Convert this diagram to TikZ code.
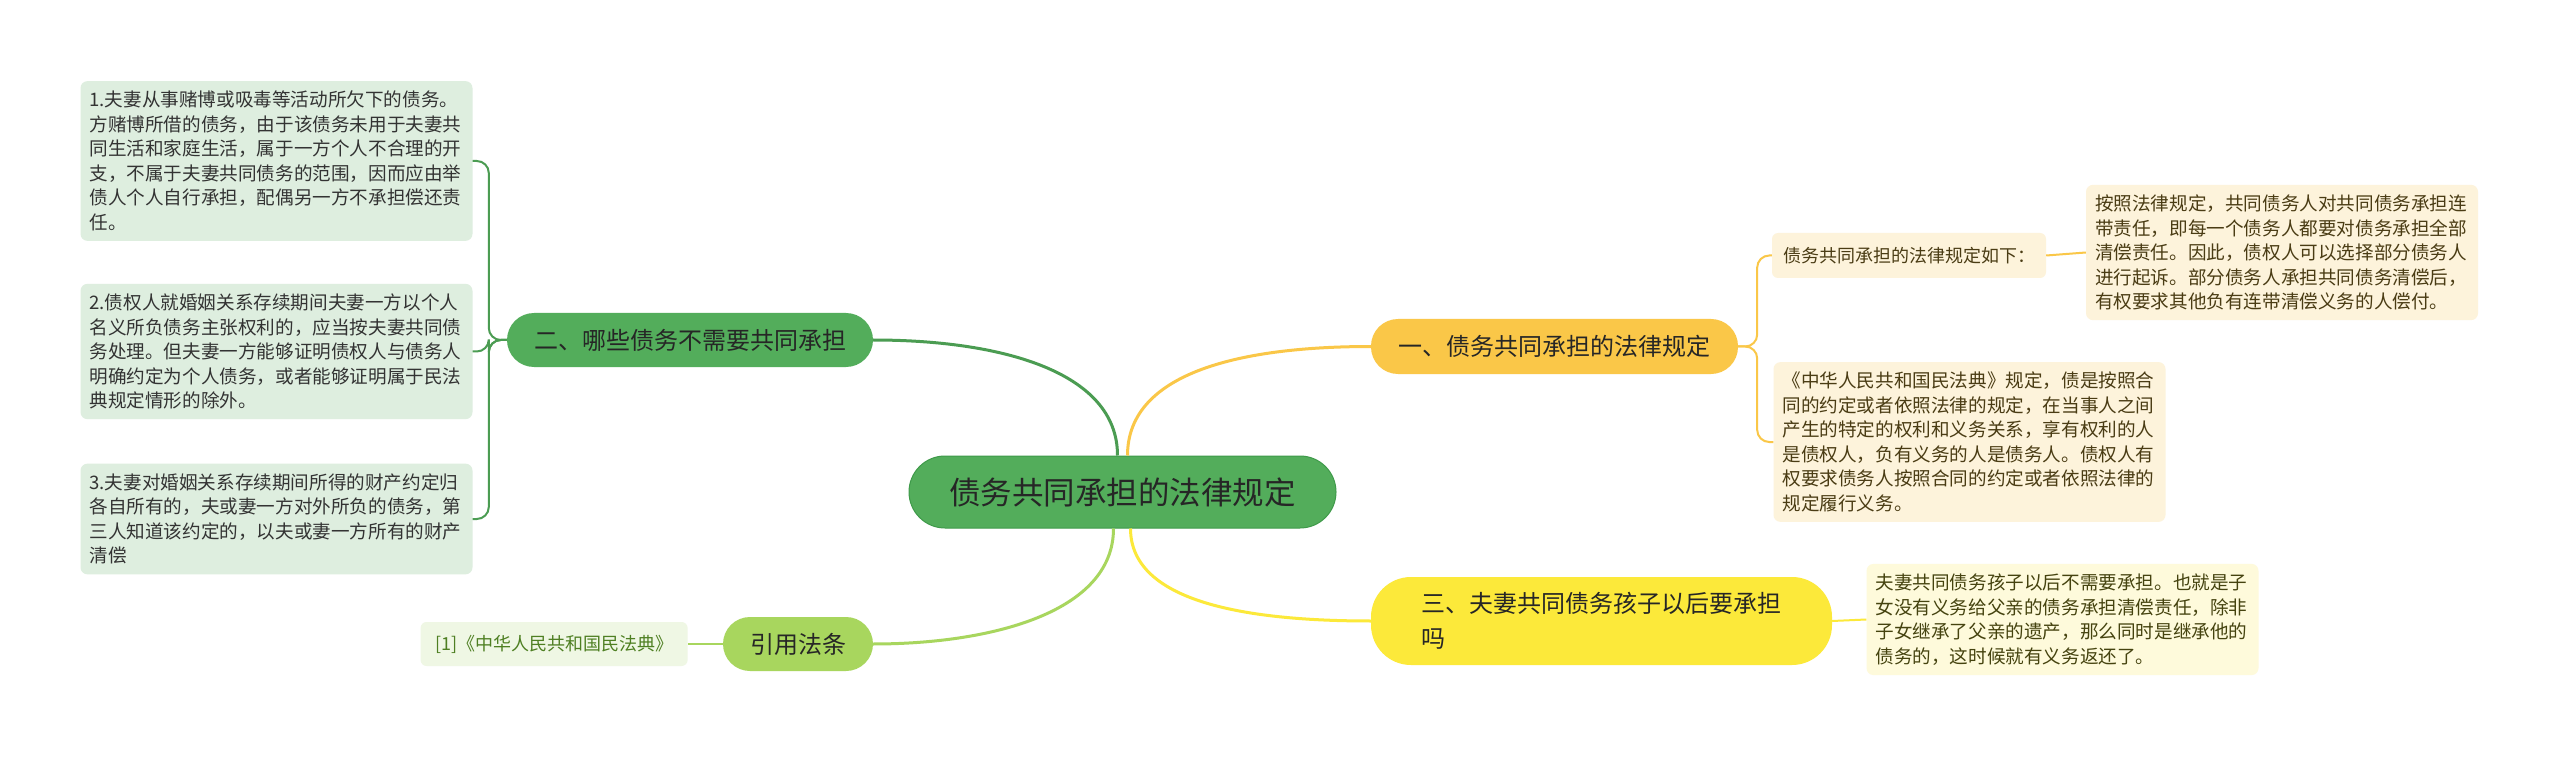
\documentclass[tikz,border=0pt]{standalone}
\usepackage{fontspec}
\setmainfont{Noto Sans CJK SC}
\usetikzlibrary{positioning,calc}

\definecolor{rootgreen}{HTML}{53AD5B}
\definecolor{rootedge}{HTML}{3F9A4A}
\definecolor{limegreen}{HTML}{A8D65E}
\definecolor{gold}{HTML}{FAC748}
\definecolor{lemon}{HTML}{FCE93A}
\definecolor{leafgreen}{HTML}{DEEEDF}
\definecolor{reffill}{HTML}{EFF7E4}
\definecolor{reftext}{HTML}{4E7F22}
\definecolor{cream}{HTML}{FDF3DB}
\definecolor{palelemon}{HTML}{FEFADB}
\definecolor{browntext}{HTML}{4A3C14}
\definecolor{olivetext}{HTML}{45430F}

\begin{document}
\begin{tikzpicture}[x=1pt,y=-1pt,
	topic/.style={rounded corners=27pt,minimum height=54pt,inner sep=0pt,text=black!85,font=\fontsize{24}{34}\selectfont},
	leaf/.style={rounded corners=7pt,text width=374pt,align=left,inner xsep=9pt,inner ysep=10pt,font=\fontsize{18.6}{24.5}\selectfont},
	tag/.style={rounded corners=6pt,minimum height=45pt,inner sep=0pt,font=\fontsize{18}{22}\selectfont},
	mainline/.style={line width=3pt},
	subline/.style={line width=2pt,rounded corners=12pt}]
		\useasboundingbox (0,0) rectangle (2560,759);
		\fill[white] (0,0) rectangle (2560,759);
		% centre
		\node[rounded corners=36pt,fill=rootgreen,draw=rootedge,line width=1pt,minimum width=427pt,minimum height=72pt,inner sep=0pt,text=black!85,font=\fontsize{31.5}{36}\selectfont] (root) at (1122.5,492) {债务共同承担的法律规定};
		% left side
		\node[topic,fill=rootgreen,minimum width=366pt] (er) at (690,340) {二、哪些债务不需要共同承担};
		\node[topic,fill=limegreen,minimum width=150pt] (yin) at (798,644) {引用法条};
		\node[tag,fill=reffill,text=reftext,minimum width=267pt,minimum height=44pt,left=35pt of yin] (ref) {[1]《中华人民共和国民法典》};
		\node[leaf,fill=leafgreen,text=black!80] (b1) at (276.5,161) {1.夫妻从事赌博或吸毒等活动所欠下的债务。\\方赌博所借的债务，由于该债务未用于夫妻共\\同生活和家庭生活，属于一方个人不合理的开\\支，不属于夫妻共同债务的范围，因而应由举\\债人个人自行承担，配偶另一方不承担偿还责\\任。};
		\node[leaf,fill=leafgreen,text=black!80] (b2) at (276.5,351.5) {2.债权人就婚姻关系存续期间夫妻一方以个人\\名义所负债务主张权利的，应当按夫妻共同债\\务处理。但夫妻一方能够证明债权人与债务人\\明确约定为个人债务，或者能够证明属于民法\\典规定情形的除外。};
		\node[leaf,fill=leafgreen,text=black!80] (b3) at (276.5,519) {3.夫妻对婚姻关系存续期间所得的财产约定归\\各自所有的，夫或妻一方对外所负的债务，第\\三人知道该约定的，以夫或妻一方所有的财产\\清偿};
		% right side
		\node[topic,fill=gold,minimum width=367pt,minimum height=55pt] (yi) at (1554.5,346.5) {一、债务共同承担的法律规定};
		\node[rounded corners=40pt,fill=lemon,minimum height=88pt,text width=360pt,align=left,inner xsep=50.5pt,inner ysep=0pt,text=black!85,font=\fontsize{24}{35}\selectfont] (san) at (1601.5,621) {三、夫妻共同债务孩子以后要承担\\吗};
		\node[tag,fill=cream,text=browntext,minimum width=274pt] (sub) at (1909,255.5) {债务共同承担的法律规定如下：};
		\node[leaf,fill=cream,text=browntext] (d1) at (2282,252.5) {按照法律规定，共同债务人对共同债务承担连\\带责任，即每一个债务人都要对债务承担全部\\清偿责任。因此，债权人可以选择部分债务人\\进行起诉。部分债务人承担共同债务清偿后，\\有权要求其他负有连带清偿义务的人偿付。};
		\node[leaf,fill=cream,text=browntext] (d2) at (1969.5,442) {《中华人民共和国民法典》规定，债是按照合\\同的约定或者依照法律的规定，在当事人之间\\产生的特定的权利和义务关系，享有权利的人\\是债权人，负有义务的人是债务人。债权人有\\权要求债务人按照合同的约定或者依照法律的\\规定履行义务。};
		\node[leaf,fill=palelemon,text=olivetext] (d3) at (2062.5,619.5) {夫妻共同债务孩子以后不需要承担。也就是子\\女没有义务给父亲的债务承担清偿责任，除非\\子女继承了父亲的遗产，那么同时是继承他的\\债务的，这时候就有义务返还了。};
		% branches
		\draw[mainline,rootgreen!90!black] ([xshift=-5pt]root.north) .. controls +(0,-85) and +(125,0) .. (er.east);
		\draw[mainline,gold] ([xshift=5pt]root.north) .. controls +(0,-85) and +(-125,0) .. (yi.west);
		\draw[mainline,limegreen] ([xshift=-9pt]root.south) .. controls +(0,85) and +(115,0) .. (yin.east);
		\draw[mainline,lemon] ([xshift=8pt]root.south) .. controls +(0,75) and +(-120,0) .. (san.west);
		\draw[subline,rootgreen!90!black] (er.west) -- ++(-18,0) |- (b1.east);
		\draw[subline,rootgreen!90!black] (er.west) -- ++(-18,0) |- (b2.east);
		\draw[subline,rootgreen!90!black] (er.west) -- ++(-18,0) |- (b3.east);
		\draw[subline,limegreen] (yin.west) -- (ref.east);
		\draw[subline,gold] (yi.east) -- ++(19,0) |- (sub.west);
		\draw[subline,gold] (yi.east) -- ++(19,0) |- (d2.west);
		\draw[subline,gold] (sub.east) -- (d1.west);
		\draw[subline,lemon] (san.east) -- (d3.west);
\end{tikzpicture}
\end{document}
